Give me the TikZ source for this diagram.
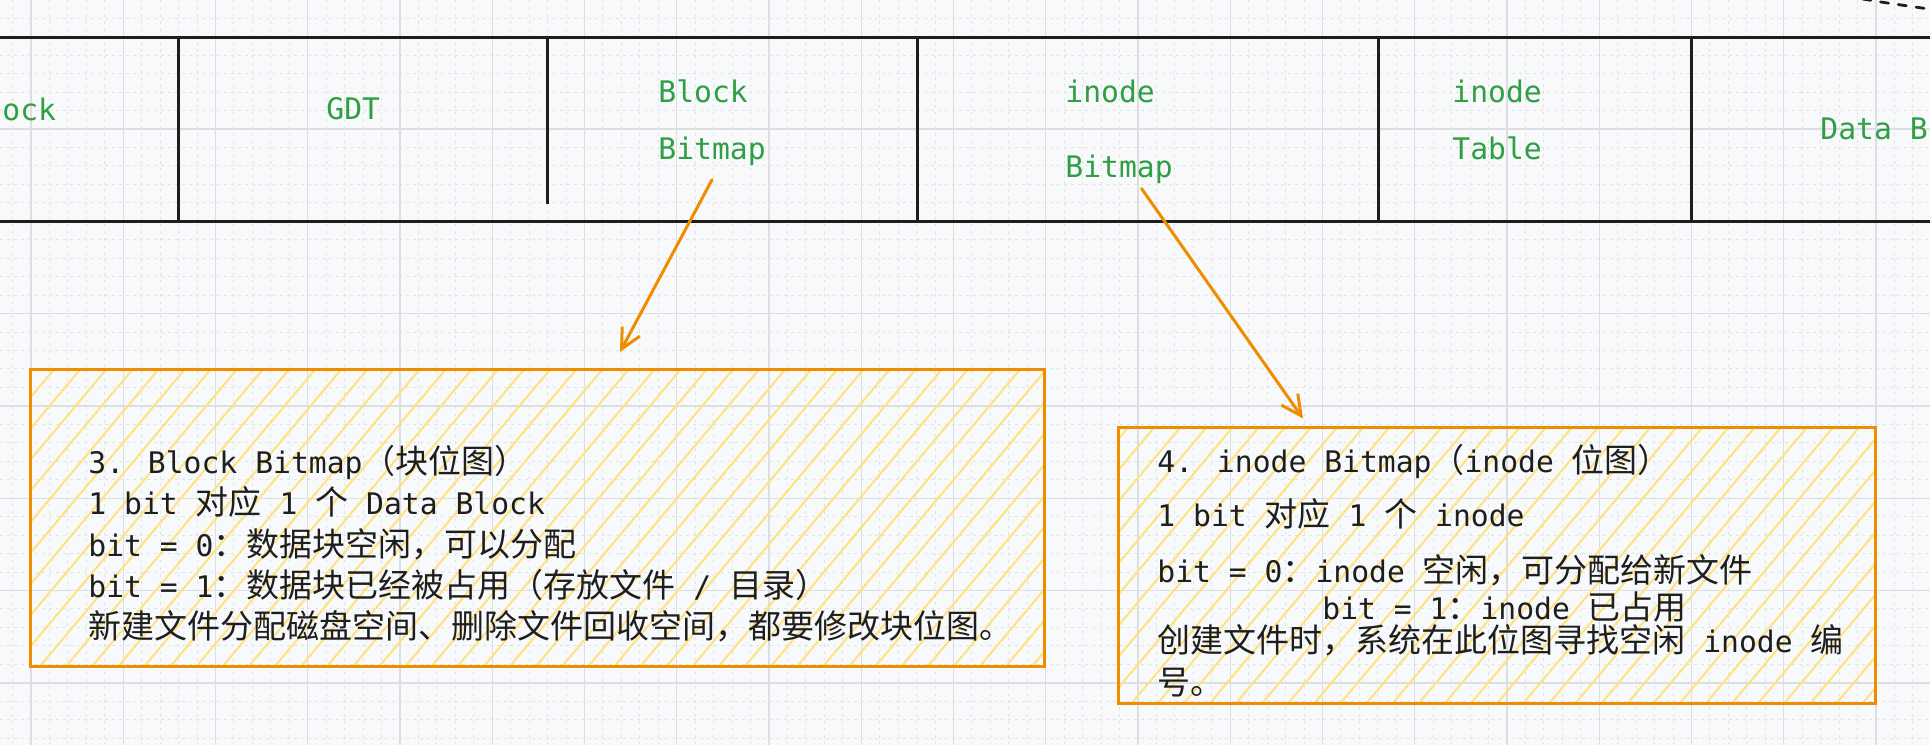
\documentclass[tikz,border=0pt]{standalone}
\usepackage{fontspec}
\setmainfont{DejaVu Sans Mono}[Scale=0.9]
\newfontfamily\zh{Noto Sans CJK SC}
\usetikzlibrary{arrows.meta,patterns.meta}
\definecolor{canvas}{RGB}{248,249,250}
\definecolor{gridmajor}{RGB}{221,222,225}
\definecolor{gridminor}{RGB}{226,227,230}
\definecolor{ink}{RGB}{30,30,30}
\definecolor{labelgreen}{RGB}{47,158,68}
\definecolor{noteorange}{RGB}{240,140,0}
\definecolor{hatchyellow}{RGB}{255,226,128}
\newcommand{\zhs}[1]{{\zh #1}}
\setlength{\lineskiplimit}{-20pt}

\begin{document}
\begin{tikzpicture}[x=0.5pt,y=-0.5pt,
    partlabel/.style={text=labelgreen, inner sep=0pt, align=left, anchor=north west,
                      font=\fontsize{16.5}{28.5}\selectfont},
    notebox/.style={draw=noteorange, line width=1.5pt, inner sep=0pt,
                    pattern={Lines[angle=50,distance=10pt,line width=1pt]}, pattern color=hatchyellow},
    notetext/.style={text=ink, inner sep=0pt, align=left, anchor=north west,
                     font=\fontsize{16.5}{20.65}\selectfont},
    notearrow/.style={draw=noteorange, line width=1.5pt, line cap=round,
                      -{Straight Barb[length=10pt,width=10pt]}},
    strip/.style={draw=ink, line width=1.5pt}]
            % Canvas & grid
            \useasboundingbox[fill=canvas] (0,0) rectangle (1930,745);
            \begin{scope}
                \clip (0,0) rectangle (1930,745);
                \foreach \k in {-2,...,105}
                    \draw[gridminor, line width=0.5pt, dash pattern=on 1.5pt off 2pt] (31+18.45*\k,0) -- (31+18.45*\k,745);
                \foreach \k in {-7,...,34}
                    \draw[gridminor, line width=0.5pt, dash pattern=on 1.5pt off 2pt] (0,129+18.46*\k) -- (1930,129+18.46*\k);
                \foreach \k in {-1,...,21}
                    \draw[gridmajor, line width=0.7pt] (31+92.25*\k,0) -- (31+92.25*\k,745);
                \foreach \k in {-2,...,7}
                    \draw[gridmajor, line width=0.7pt] (0,129+92.3*\k) -- (1930,129+92.3*\k);
            \end{scope}

            % Block group strip
            \draw[strip] (0,37) -- (1930,37) (0,221) -- (1930,221);
            \foreach \x in {178,917,1378,1691}
                \draw[strip] (\x,37) -- (\x,221);
            \draw[strip] (547,37) -- (547,204);

            % Part labels
            \node[partlabel]                    (sblabel)  at (2,98)     {ock};
            \node[partlabel]                    (gdtlabel) at (326,97)   {GDT};
            \node[partlabel]                    (bbmlabel) at (658,79)   {Block\\Bitmap};
            \node[partlabel]                    (ibmlabel) at (1065,80)  {inode\\[9pt]Bitmap};
            \node[partlabel]                    (itblabel) at (1452,80)  {inode\\Table};
            \node[partlabel]                    (dblabel)  at (1820,117) {Data B};

            % Link leaving at the top right
            \coordinate (linkin)  at (1845,-4);
            \coordinate (linkout) at (1936,10);
            \draw[ink, line width=1.4pt, dash pattern=on 4pt off 5pt, line cap=round] (linkin) .. controls (1880,2) .. (linkout);

            % Note boxes
            \node[notebox, minimum width=507pt, minimum height=148.5pt] (bbnote) at (537,517.5) {};
            \node[notebox, minimum width=378.5pt, minimum height=138pt] (ibnote) at (1496.5,565) {};

            \node[notetext] (bbtext) at (88,445) {%
                3. Block Bitmap\zhs{（块位图）}\\
                1 bit \zhs{对应} 1 \zhs{个} Data Block\\
                bit = 0\zhs{：数据块空闲，可以分配}\\
                bit = 1\zhs{：数据块已经被占用（存放文件} / \zhs{目录）}\\
                \zhs{新建文件分配磁盘空间、删除文件回收空间，都要修改块位图。}};
            \node[notetext, font=\fontsize{16.5}{20}\selectfont] (ibtext) at (1157,444) {%
                4. inode Bitmap\zhs{（}inode \zhs{位图）}\\[7pt]
                1 bit \zhs{对应} 1 \zhs{个} inode\\[8pt]
                bit = 0\zhs{：}inode \zhs{空闲，可分配给新文件}\\[-1.5pt]
                \hspace*{82.5pt}bit = 1\zhs{：}inode \zhs{已占用}\\[-3.5pt]
                \zhs{创建文件时，系统在此位图寻找空闲} inode \zhs{编}\\[1pt]
                \zhs{号。}};

            % Pointers from the strip to the notes
            \draw[notearrow] ([yshift=-7pt]bbmlabel.south) -- ([xshift=41.5pt,yshift=8pt]bbnote.north);
            \draw[notearrow] ([xshift=11.25pt,yshift=-2pt]ibmlabel.south) -- ([xshift=-96.75pt,yshift=3.5pt]ibnote.north);
\end{tikzpicture}
\end{document}
